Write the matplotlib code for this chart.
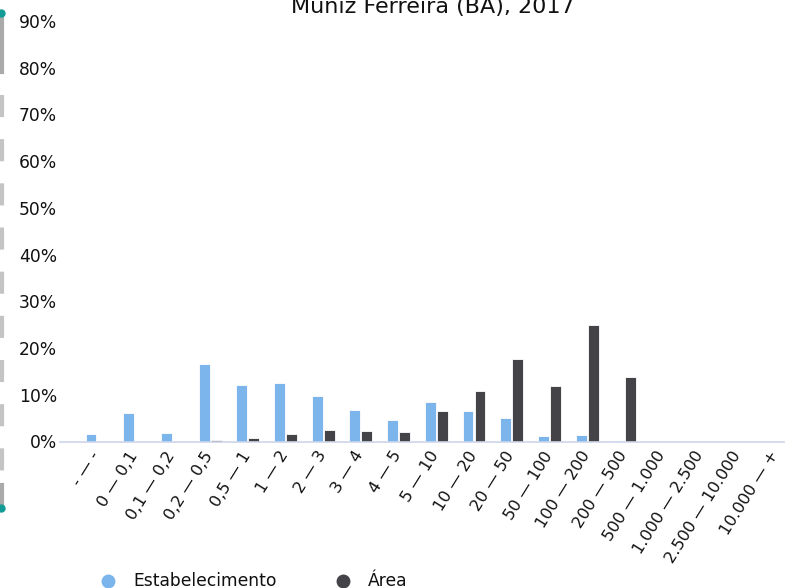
import matplotlib
matplotlib.use("Agg")
import matplotlib.pyplot as plt
import matplotlib.transforms as mtransforms
from matplotlib.lines import Line2D
import numpy as np

categories = ["- — -", "0 — 0,1", "0,1 — 0,2", "0,2 — 0,5", "0,5 — 1", "1 — 2",
              "2 — 3", "3 — 4", "4 — 5", "5 — 10", "10 — 20", "20 — 50",
              "50 — 100", "100 — 200", "200 — 500", "500 — 1.000",
              "1.000 — 2.500", "2.500 — 10.000", "10.000 — +"]
estabelecimento = [1.5, 6.0, 1.9, 16.5, 12.0, 12.6, 9.8, 6.8, 4.5, 8.4,
                   6.6, 5.1, 1.1, 1.4, 0.2, 0, 0, 0, 0]
area = [0, 0, 0, 0.3, 0.7, 1.7, 2.4, 2.3, 2.1, 6.6,
        10.9, 17.7, 11.8, 24.9, 13.8, 0, 0, 0, 0]
yticks = [0, 10, 20, 30, 40, 50, 60, 70, 80, 90]

BLUE, DARK = "#7cb5ec", "#434348"
W, H = 785, 588

fig = plt.figure(figsize=(W / 100, H / 100), dpi=100)
# axes placed in pixel terms: left 60, right 785, bottom at y=441.5, top at y=21
ax = fig.add_axes([60 / W, (H - 441.5) / H, 725 / W, (441.5 - 21) / H])

x = np.arange(len(categories))
bw, off = 0.29, 0.16
ax.bar(x - off, estabelecimento, bw, color=BLUE, edgecolor="white", linewidth=0.6)
ax.bar(x + off, area, bw, color=DARK, edgecolor="white", linewidth=0.6)

ax.set_xlim((60 - 97) / 37.7, (785 - 97) / 37.7)
ax.set_ylim(0, 90)
ax.set_yticks(yticks)
ax.set_yticklabels([f"{v}%" for v in yticks], fontsize=12.3, color="#111111")
ax.set_xticks(x)
ax.set_xticklabels(categories, rotation=58, ha="right", rotation_mode="anchor",
                   fontsize=11.6, color="#111111")
ax.tick_params(axis="both", length=0)
ax.tick_params(axis="x", pad=5)
ax.tick_params(axis="y", pad=2)
# nudge the rotated labels a little to the left
shift = mtransforms.ScaledTranslation(-7 / 100, 0, fig.dpi_scale_trans)
for lbl in ax.get_xticklabels():
    lbl.set_transform(lbl.get_transform() + shift)
for s in ("top", "right", "left"):
    ax.spines[s].set_visible(False)
ax.spines["bottom"].set_color("#ccd6eb")
ax.spines["bottom"].set_linewidth(1.2)

fig.text(433 / W, 1 - 13 / H, "Muniz Ferreira (BA), 2017", ha="center",
         va="baseline", fontsize=16, color="#111111")

# legend drawn by hand at the bottom
ly = 1 - 581 / H
for mx, col, lab in ((108, BLUE, "Estabelecimento"), (343, DARK, "Área")):
    fig.add_artist(Line2D([mx / W], [ly], marker="o", markersize=9, color=col,
                          linestyle="none", transform=fig.transFigure))
    fig.text((mx + 25) / W, ly, lab, va="center", ha="left", fontsize=12.3,
             color="#111111")

# scroll-bar like decoration on the left edge
fig.add_artist(Line2D([1.5 / W] * 2, [1 - 15 / H, 1 - 72 / H], color="#aaaaaa",
                      linewidth=3, transform=fig.transFigure))
fig.add_artist(Line2D([1.5 / W] * 2, [1 - 95 / H, 1 - 485 / H], color="#c4c4c4",
                      linewidth=3, dashes=(5.3, 5.3), transform=fig.transFigure))
fig.add_artist(Line2D([1.5 / W] * 2, [1 - 485 / H, 1 - 507 / H], color="#aaaaaa",
                      linewidth=3, transform=fig.transFigure))
for yy in (13, 508):
    fig.add_artist(Line2D([1 / W], [1 - yy / H], marker="o", markersize=5,
                          color="#139c95", linestyle="none",
                          transform=fig.transFigure))

fig.savefig("out.png", dpi=100)
